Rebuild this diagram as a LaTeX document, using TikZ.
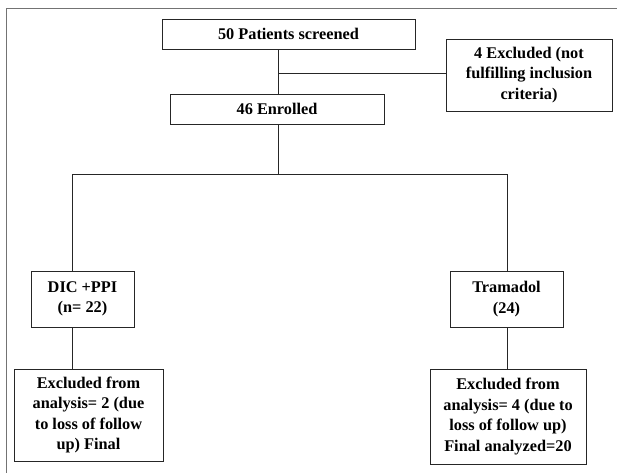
\documentclass[tikz,border=0pt]{standalone}
\usepackage{fontspec}
\setmainfont{Liberation Serif}
\usepackage{tikz}
\usetikzlibrary{positioning}

\begin{document}
\begin{tikzpicture}[x=1pt, y=-1pt,
  box/.style={draw=black!85, line width=0.9pt, inner sep=0pt, align=center,
    font=\fontsize{16.3}{20.5}\selectfont\bfseries},
  link/.style={draw=black!85, line width=0.9pt},
  frame/.style={draw=black!55, line width=1.6pt}]
\useasboundingbox (0,0) rectangle (617,473);
\draw[frame] (617,8.5) -- (6.5,8.5) -- (6.5,473);
%
\node[box, minimum width=253pt, minimum height=30pt](scr) at (288.5,34) {50 Patients screened};
%
\node[box, minimum width=166pt, minimum height=72pt](excl) at (529,75) {4 Excluded (not\\fulfilling inclusion\\criteria)};
%
\node[box, minimum width=214pt, minimum height=30pt](enr) at (277,109) {46 Enrolled};
\coordinate(jx) at (278,73);
\draw[link](scr.south -| jx) -- (enr.north -| jx) {};
\draw[link](jx) -- (jx -| excl.west) {};
%
\coordinate(js) at (278,174);
\coordinate(jl) at (72,174);
\coordinate(jr) at (507,174);
\draw[link](enr.south -| js) -- (js) {};
\draw[link](jl) -- (jr) {};
%
\node[box, minimum width=103pt, minimum height=56pt](dic) at (82.5,299) {DIC +PPI\\(n= 22)};
\node[box, minimum width=113pt, minimum height=56pt](tram) at (506.5,299) {Tramadol\\(24)};
\draw[link](jl) -- (jl |- dic.north) {};
\draw[link](jr) -- (jr |- tram.north) {};
%
\node[box, minimum width=149pt, minimum height=92pt](exl) at (88.5,415) {Excluded from\\analysis= 2 (due\\to loss of follow\\up) Final};
\node[box, minimum width=156pt, minimum height=95pt](exr) at (508,416.5) {Excluded from\\analysis= 4 (due to\\loss of follow up)\\Final analyzed=20};
\draw[link](dic.south -| jl) -- (exl.north -| jl) {};
\draw[link](tram.south -| jr) -- (exr.north -| jr) {};
\end{tikzpicture}
\end{document}
